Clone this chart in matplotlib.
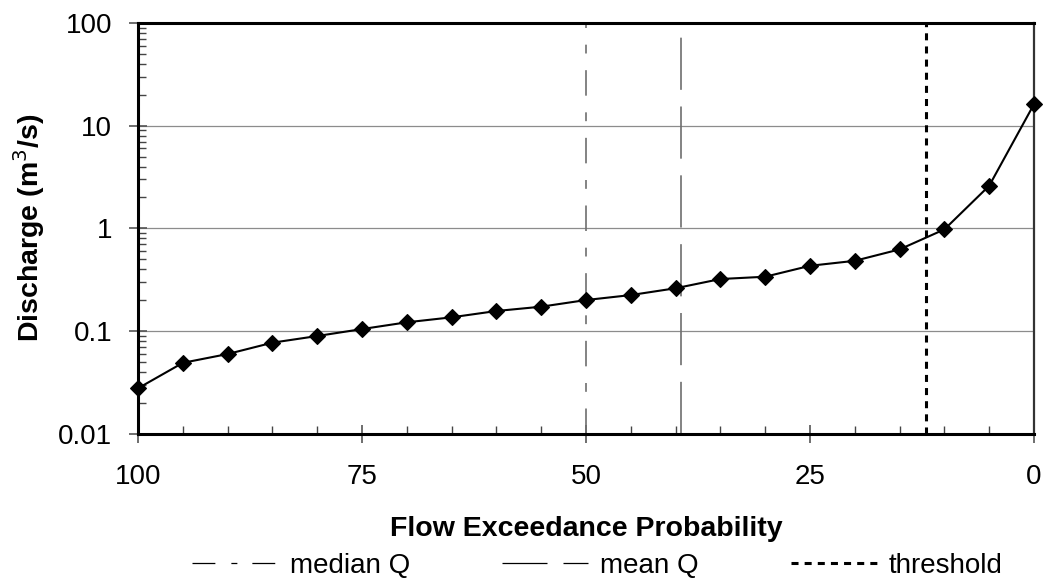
import matplotlib
matplotlib.use("Agg")
import matplotlib.pyplot as plt
from matplotlib.lines import Line2D
from matplotlib.ticker import LogLocator, NullFormatter, FixedLocator

plt.rcParams['font.family'] = ['Liberation Sans', 'DejaVu Sans']

exceedance = [100, 95, 90, 85, 80, 75, 70, 65, 60, 55, 50, 45, 40, 35, 30, 25, 20, 15, 10, 5, 0]
discharge = [0.0277, 0.049, 0.0597, 0.077, 0.0894, 0.1045, 0.1216, 0.136, 0.1567, 0.1726,
             0.2004, 0.224, 0.261, 0.321, 0.338, 0.432, 0.483, 0.624, 0.977, 2.6, 16.2]
median_q = 50
mean_q = 39.4
threshold = 12.1
x_ticks = [100, 75, 50, 25, 0]
y_ticks = [0.01, 0.1, 1, 10, 100]
y_tick_labels = ['0.01', '0.1', '1', '10', '100']

fig = plt.figure(figsize=(10.49, 5.83), dpi=100)
ax = fig.add_axes([0.1316, 0.2561, 0.8541, 0.7044])

ax.set_yscale('log')
ax.set_ylim(0.01, 100)
ax.set_xlim(100, 0)

for y in [10, 1, 0.1]:
    ax.axhline(y, color='#8c8c8c', lw=0.9, zorder=1)

ax.axvline(median_q, color='#6e6e6e', lw=1.2, dashes=(15.3, 10, 5.3, 10), zorder=2)
ax.axvline(mean_q, color='#6e6e6e', lw=1.2, dashes=(31.3, 10), zorder=2)
ax.axvline(threshold, color='black', lw=2.2, dashes=(2.3, 2.0), zorder=2)

ax.plot(exceedance, discharge, color='black', lw=1.5, marker='D', markersize=8.2,
        markerfacecolor='black', markeredgecolor='black', markeredgewidth=0.8,
        zorder=4, clip_on=False)

ax.xaxis.set_major_locator(FixedLocator(x_ticks))
ax.xaxis.set_minor_locator(FixedLocator(list(range(0, 101, 5))))
ax.set_yticks(y_ticks)
ax.set_yticklabels(y_tick_labels)
ax.yaxis.set_minor_locator(LogLocator(base=10, subs=range(2, 10)))
ax.yaxis.set_minor_formatter(NullFormatter())

ax.tick_params(axis='both', which='major', direction='inout', length=13, width=1.2,
               labelsize=20, color='#555555')
ax.tick_params(axis='x', which='major', pad=15)
ax.tick_params(axis='y', which='major', pad=12)
ax.tick_params(axis='both', which='minor', direction='in', length=6, width=1.0, color='#444444')

for s in ['left', 'bottom', 'top']:
    ax.spines[s].set_linewidth(2.2)
    ax.spines[s].set_color('black')
ax.spines['right'].set_linewidth(1.6)
ax.spines['right'].set_color('#333333')

ax.set_xlabel('Flow Exceedance Probability', fontsize=20.5, fontweight='bold', labelpad=19)
ax.set_ylabel('Discharge (m$^3$/s)', fontsize=20.5, fontweight='bold', labelpad=8)

handles = [
    Line2D([], [], color='black', lw=0.9, dashes=(18.3, 12.8, 4.8, 12)),
    Line2D([], [], color='black', lw=0.9, dashes=(36, 12.8)),
    Line2D([], [], color='black', lw=2.2, dashes=(2.3, 2.0)),
]
labels = ['median Q', 'mean Q', 'threshold']
fig.legend(handles, labels, loc='center', bbox_to_anchor=(0.5696, 0.029), ncol=3,
           frameon=False, fontsize=20, handlelength=3.1, columnspacing=3.3,
           handletextpad=0.43, borderaxespad=0, borderpad=0)

fig.savefig('out.png', dpi=100)
